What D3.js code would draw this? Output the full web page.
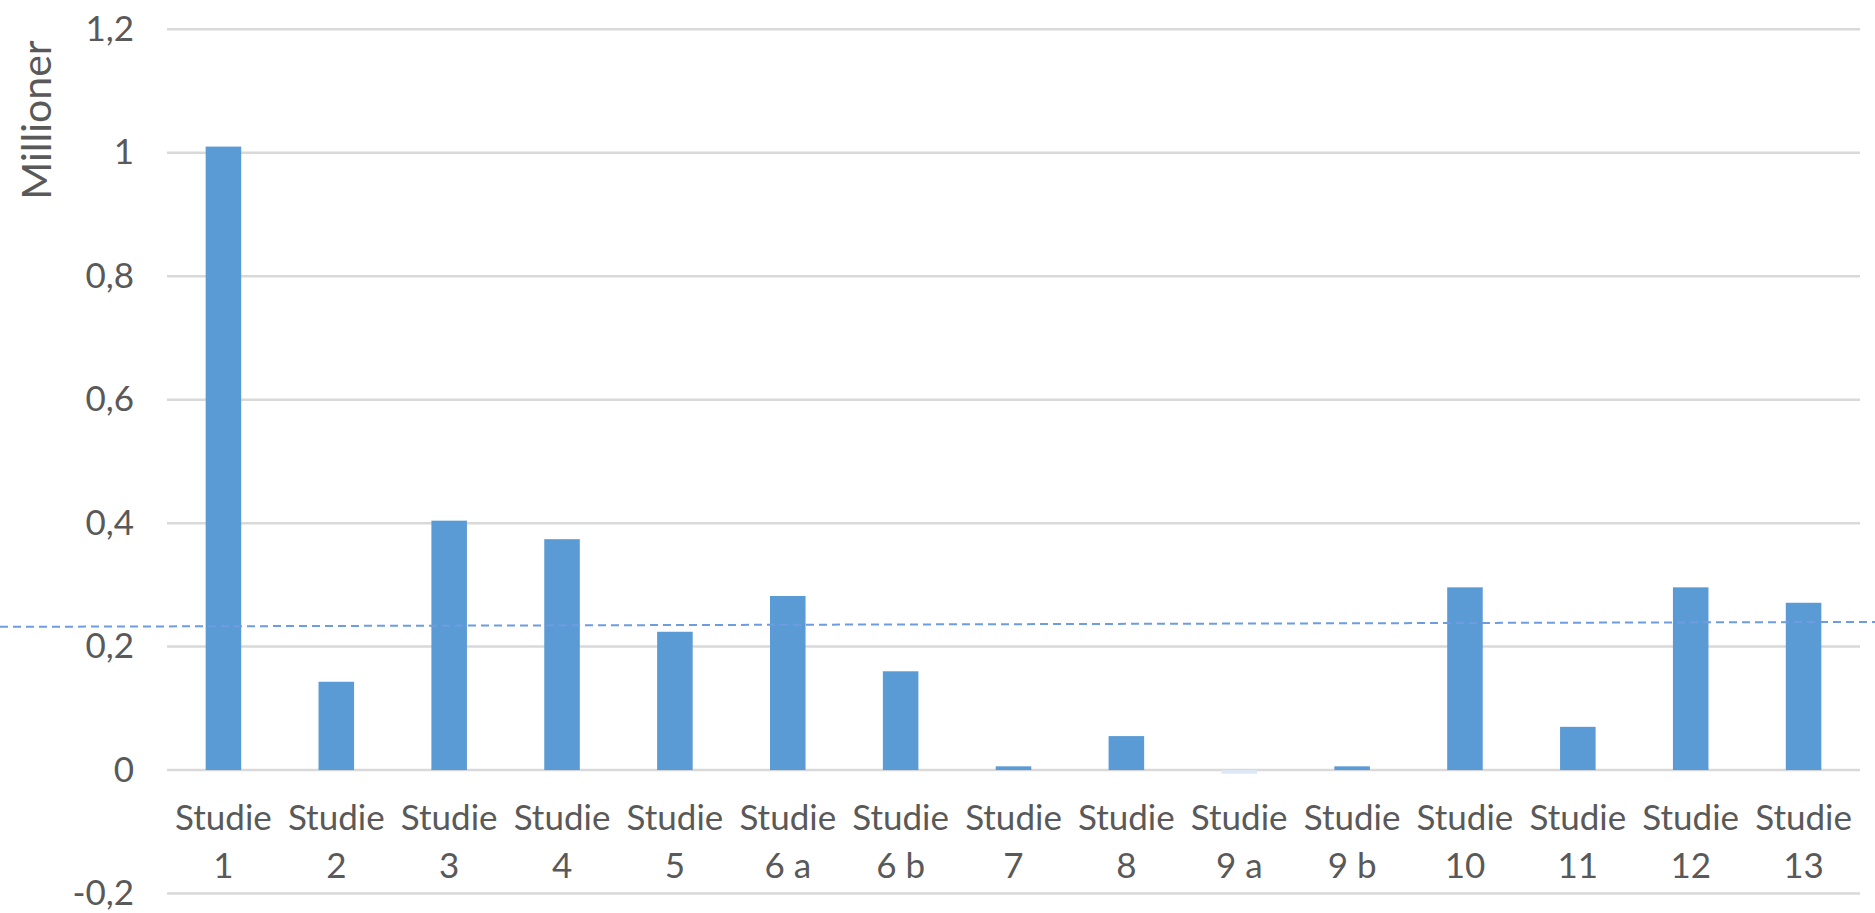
<!DOCTYPE html>
<html>
<head>
<meta charset="utf-8">
<script src="https://cdn.jsdelivr.net/npm/d3@7"></script>
<style>
  html, body { margin: 0; padding: 0; background: #ffffff; }
  svg { display: block; }
  text { font-family: Lato, "Open Sans", sans-serif; fill: #595959; }
</style>
</head>
<body>
<svg id="chart" width="1875" height="913"></svg>
<script>
// Studies and their values (in millions)
const categories = ["Studie 1", "Studie 2", "Studie 3", "Studie 4", "Studie 5", "Studie 6 a", "Studie 6 b",
  "Studie 7", "Studie 8", "Studie 9 a", "Studie 9 b", "Studie 10", "Studie 11", "Studie 12", "Studie 13"];
const values = [1.01, 0.143, 0.404, 0.374, 0.224, 0.282, 0.160, 0.006, 0.055, -0.006, 0.006, 0.296, 0.070, 0.296, 0.271];
const yTicks = [-0.2, 0, 0.2, 0.4, 0.6, 0.8, 1, 1.2];
const yTitle = "Millioner";
// Dashed reference line: value at left end and at right end
const refLine = [0.232, 0.240];

const W = 1875, H = 913;
const plot = { left: 167, right: 1860, top: 29.3, bottom: 893.5 };

const svg = d3.select("#chart");

const nb = d3.formatLocale({ decimal: ",", thousands: ".", grouping: [3], currency: ["", " kr"], minus: "-" });
const fmt = nb.format(".1~f");

const y = d3.scaleLinear().domain([-0.2, 1.2]).range([plot.bottom, plot.top]);
const x = d3.scaleBand().domain(categories).range([plot.left, plot.right])
  .paddingInner(0.685).paddingOuter(0.3425);

// Horizontal gridlines
svg.append("g")
  .selectAll("line")
  .data(yTicks)
  .join("line")
  .attr("x1", plot.left).attr("x2", plot.right)
  .attr("y1", d => y(d)).attr("y2", d => y(d))
  .attr("stroke", "#d9d9d9")
  .attr("stroke-width", 2.5);

// Y axis labels
const yAxis = svg.append("g")
  .attr("transform", `translate(${plot.left - 33},0)`)
  .call(d3.axisLeft(y).tickValues(yTicks).tickFormat(fmt).tickSize(0).tickPadding(0));
yAxis.select(".domain").remove();
yAxis.selectAll("text")
  .attr("font-size", 35)
  .attr("font-family", "Lato, 'Open Sans', sans-serif")
  .attr("fill", "#595959");

// Y axis title
svg.append("text")
  .attr("transform", `translate(35, 120) rotate(-90)`)
  .attr("text-anchor", "middle")
  .attr("dominant-baseline", "central")
  .attr("font-size", 41)
  .text(yTitle);

// Bars
const data = categories.map((c, i) => ({ c, v: values[i] }));
svg.append("g")
  .selectAll("rect")
  .data(data)
  .join("rect")
  .attr("x", d => x(d.c))
  .attr("width", x.bandwidth())
  .attr("y", d => y(Math.max(0, d.v)))
  .attr("height", d => Math.abs(y(d.v) - y(0)))
  .attr("fill", d => d.v < 0 ? "#dce8f5" : "#5b9bd5");

// Category labels, two lines each
const xl = svg.append("g")
  .selectAll("text")
  .data(categories)
  .join("text")
  .attr("text-anchor", "middle")
  .attr("font-size", 35)
  .attr("x", d => x(d) + x.bandwidth() / 2)
  .attr("y", 830);
xl.append("tspan")
  .attr("x", d => x(d) + x.bandwidth() / 2)
  .text(d => d.split(" ")[0]);
xl.append("tspan")
  .attr("x", d => x(d) + x.bandwidth() / 2)
  .attr("dy", 48)
  .text(d => d.split(" ").slice(1).join(" "));

// Dashed reference line across the full width
svg.append("line")
  .attr("x1", 0).attr("x2", W)
  .attr("y1", y(refLine[0])).attr("y2", y(refLine[1]))
  .attr("stroke", "#6d9de0")
  .attr("stroke-width", 2)
  .attr("stroke-dasharray", "8,5");
</script>
</body>
</html>
